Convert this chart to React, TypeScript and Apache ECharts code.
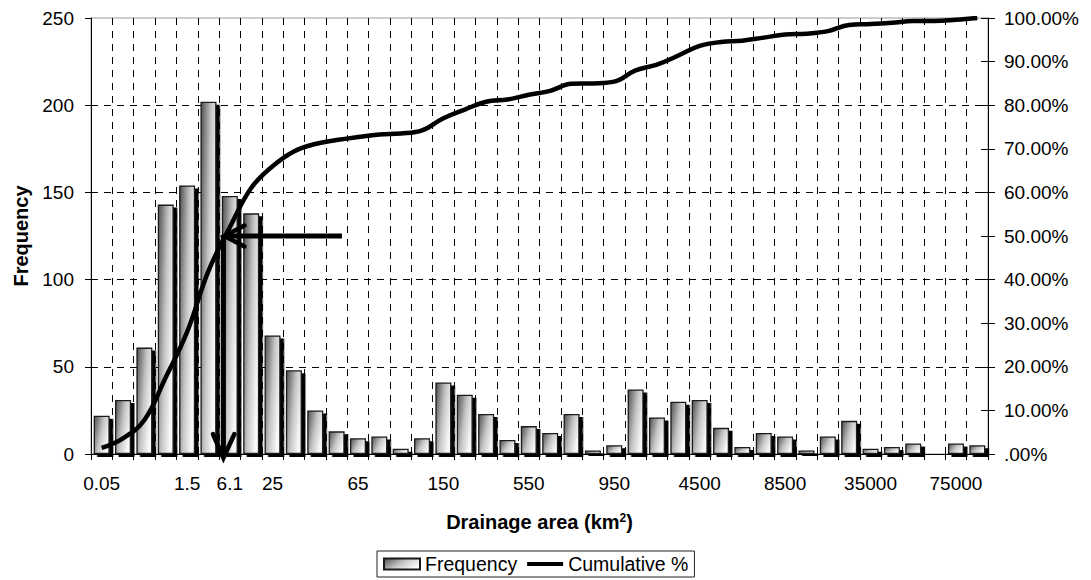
import React, { useEffect, useRef } from "react";
import * as echarts from "echarts";

// Bin labels along the drainage-area axis (only some bins carry a label)
const binLabels: string[] = [
  "0.05", "", "", "", "1.5", "", "6.1", "", "25", "", "", "",
  "65", "", "", "", "150", "", "", "", "550", "", "", "",
  "950", "", "", "", "4500", "", "", "", "8500", "", "", "",
  "35000", "", "", "", "75000", "",
];

// Number of catchments falling in each drainage-area bin
const frequency: number[] = [
  22, 31, 61, 143, 154, 202, 148, 138, 68, 48, 25, 13,
  9, 10, 3, 9, 41, 34, 23, 8, 16, 12, 23, 2,
  5, 37, 21, 30, 31, 15, 4, 12, 10, 2, 10, 19,
  3, 4, 6, 0, 6, 5,
];

// Cumulative share of catchments (%)
const cumulative: number[] = [
  1.4, 3.6, 7.8, 17.6, 28, 42, 52, 61, 66, 69.4, 71.1, 72,
  72.7, 73.3, 73.5, 74.2, 77, 79, 80.8, 81.3, 82.4, 83.3, 84.9, 85,
  85.4, 88, 89.3, 91.4, 93.6, 94.5, 94.8, 95.5, 96.2, 96.4, 97, 98.4,
  98.6, 98.9, 99.3, 99.3, 99.6, 100,
];

const freqTicks = { min: 0, max: 250, interval: 50 };
const pctTicks = { min: 0, max: 100, interval: 10 };

// Median marker: 50 % cumulative, reached between the 1.5 and 6.1 bins
const MEDIAN_PCT = 50;
const MEDIAN_BIN = 5.7;
const ARROW_TAIL_BIN = 11.25;

const FONT = "'Liberation Sans', Arial, Helvetica, sans-serif";

export default function App() {
  const ref = useRef<HTMLDivElement>(null);

  useEffect(() => {
    if (!ref.current) return;
    const chart = echarts.init(ref.current, null, { renderer: "svg" });

    const barFill = {
      type: "linear",
      x: 0,
      y: 0,
      x2: 1,
      y2: 0.5,
      colorStops: [
        { offset: 0, color: "#505050" },
        { offset: 0.55, color: "#c4c4c4" },
        { offset: 1, color: "#f8f8f8" },
      ],
    };

    const dash = [7, 6];

    chart.setOption({
      animation: false,
      backgroundColor: "#ffffff",
      textStyle: { fontFamily: FONT, color: "#000" },
      grid: {
        left: 91,
        right: 103,
        top: 18,
        bottom: 126,
        show: true,
        borderColor: "#999999",
        borderWidth: 1,
      },
      legend: {
        left: 377,
        top: 551,
        orient: "horizontal",
        itemWidth: 36,
        itemHeight: 11,
        itemGap: 10,
        padding: [3, 6, 3, 6],
        borderColor: "#222",
        borderWidth: 1,
        textStyle: { fontFamily: FONT, fontSize: 19.5, color: "#000" },
        data: [
          { name: "Frequency", icon: "rect" },
          { name: "Cumulative %", icon: "path://M0,0H40V4.5H0Z" },
        ],
      },
      xAxis: {
        type: "category",
        data: binLabels,
        boundaryGap: true,
        name: "{t|Drainage area (km}{s|2}{t|)}",
        nameLocation: "middle",
        nameGap: 58,
        nameTextStyle: {
          rich: {
            t: { fontFamily: FONT, fontSize: 20, fontWeight: "bold", color: "#000" },
            s: {
              fontFamily: FONT,
              fontSize: 12,
              fontWeight: "bold",
              color: "#000",
              verticalAlign: "top",
            },
          },
        },
        axisLine: { lineStyle: { color: "#000", width: 1 } },
        axisTick: { show: true, interval: 0, length: 6, lineStyle: { color: "#000" } },
        axisLabel: {
          interval: 0,
          margin: 20,
          fontFamily: FONT,
          fontSize: 19,
          color: "#000",
        },
        splitLine: {
          show: true,
          interval: 0,
          lineStyle: { color: "#000", type: dash, width: 1 },
        },
      },
      yAxis: [
        {
          type: "value",
          ...freqTicks,
          position: "left",
          name: "Frequency",
          nameLocation: "middle",
          nameGap: 60,
          nameRotate: 90,
          nameTextStyle: { fontFamily: FONT, fontSize: 20, fontWeight: "bold", color: "#000" },
          axisLine: { show: true, lineStyle: { color: "#000", width: 1 } },
          axisTick: { show: true, length: 6, lineStyle: { color: "#000" } },
          axisLabel: { margin: 17, fontFamily: FONT, fontSize: 19, color: "#000" },
          splitLine: {
            show: true,
            lineStyle: {
              color: ["#000", "#000", "#000", "#000", "#000", "rgba(0,0,0,0)"],
              type: dash,
              width: 1,
            },
          },
        },
        {
          type: "value",
          ...pctTicks,
          position: "right",
          axisLine: { show: true, lineStyle: { color: "#000", width: 1 } },
          axisTick: { show: true, length: 7, lineStyle: { color: "#000" } },
          axisLabel: {
            margin: 16,
            fontFamily: FONT,
            fontSize: 19,
            color: "#000",
            formatter: (v: number) => (v === 0 ? ".00%" : v.toFixed(2) + "%"),
          },
          splitLine: { show: false },
        },
        {
          // inner half of the crossing ticks on the percentage axis
          type: "value",
          ...pctTicks,
          position: "right",
          axisLine: { show: false },
          axisTick: { show: true, inside: true, length: 7, lineStyle: { color: "#000" } },
          axisLabel: { show: false },
          splitLine: { show: false },
        },
      ],
      series: [
        {
          name: "Frequency",
          type: "bar",
          yAxisIndex: 0,
          data: frequency,
          barWidth: 16,
          itemStyle: {
            color: barFill,
            borderColor: "#1a1a1a",
            borderWidth: 1.3,
            shadowColor: "#000",
            shadowBlur: 0,
            shadowOffsetX: 3.5,
            shadowOffsetY: 3,
          },
        },
        {
          name: "Cumulative %",
          type: "line",
          yAxisIndex: 1,
          data: cumulative,
          smooth: 0.4,
          symbol: "none",
          lineStyle: { color: "#000", width: 4.5 },
          itemStyle: { color: "#000" },
          z: 5,
        },
      ],
    });

    // Arrows marking where the cumulative curve crosses 50 %
    const px = (bin: number, pct: number) => {
      const lo = Math.floor(bin);
      const frac = bin - lo;
      const a = chart.convertToPixel({ xAxisIndex: 0, yAxisIndex: 1 }, [lo, pct]) as number[];
      const b = chart.convertToPixel({ xAxisIndex: 0, yAxisIndex: 1 }, [lo + 1, pct]) as number[];
      return [a[0] + (b[0] - a[0]) * frac, a[1]];
    };
    const tip = px(MEDIAN_BIN, MEDIAN_PCT);
    const tail = px(ARROW_TAIL_BIN, MEDIAN_PCT);
    const base = chart.convertToPixel({ xAxisIndex: 0, yAxisIndex: 0 }, [0, 0]) as number[];
    const bottom = base[1] + 4;
    const stroke = { stroke: "#000", lineWidth: 5, lineCap: "butt" };
    const head = { stroke: "#000", lineWidth: 4.5, fill: null, lineJoin: "miter", lineCap: "round" };

    chart.setOption({
      graphic: [
        {
          type: "line",
          z: 10,
          shape: { x1: tail[0], y1: tail[1], x2: tip[0] + 1, y2: tip[1] },
          style: stroke,
        },
        {
          type: "polyline",
          z: 10,
          shape: {
            points: [
              [tip[0] + 21, tip[1] - 10.5],
              [tip[0] + 1, tip[1]],
              [tip[0] + 21, tip[1] + 10.5],
            ],
          },
          style: head,
        },
        {
          type: "line",
          z: 10,
          shape: { x1: tip[0], y1: tip[1], x2: tip[0], y2: bottom },
          style: stroke,
        },
        {
          type: "polyline",
          z: 10,
          shape: {
            points: [
              [tip[0] - 10.5, bottom - 24],
              [tip[0], bottom],
              [tip[0] + 11, bottom - 24],
            ],
          },
          style: head,
        },
      ],
    });

    return () => chart.dispose();
  }, []);

  return (
    <div
      ref={ref}
      style={{ position: "fixed", left: 0, top: 0, width: 1091, height: 580, background: "#fff" }}
    />
  );
}
